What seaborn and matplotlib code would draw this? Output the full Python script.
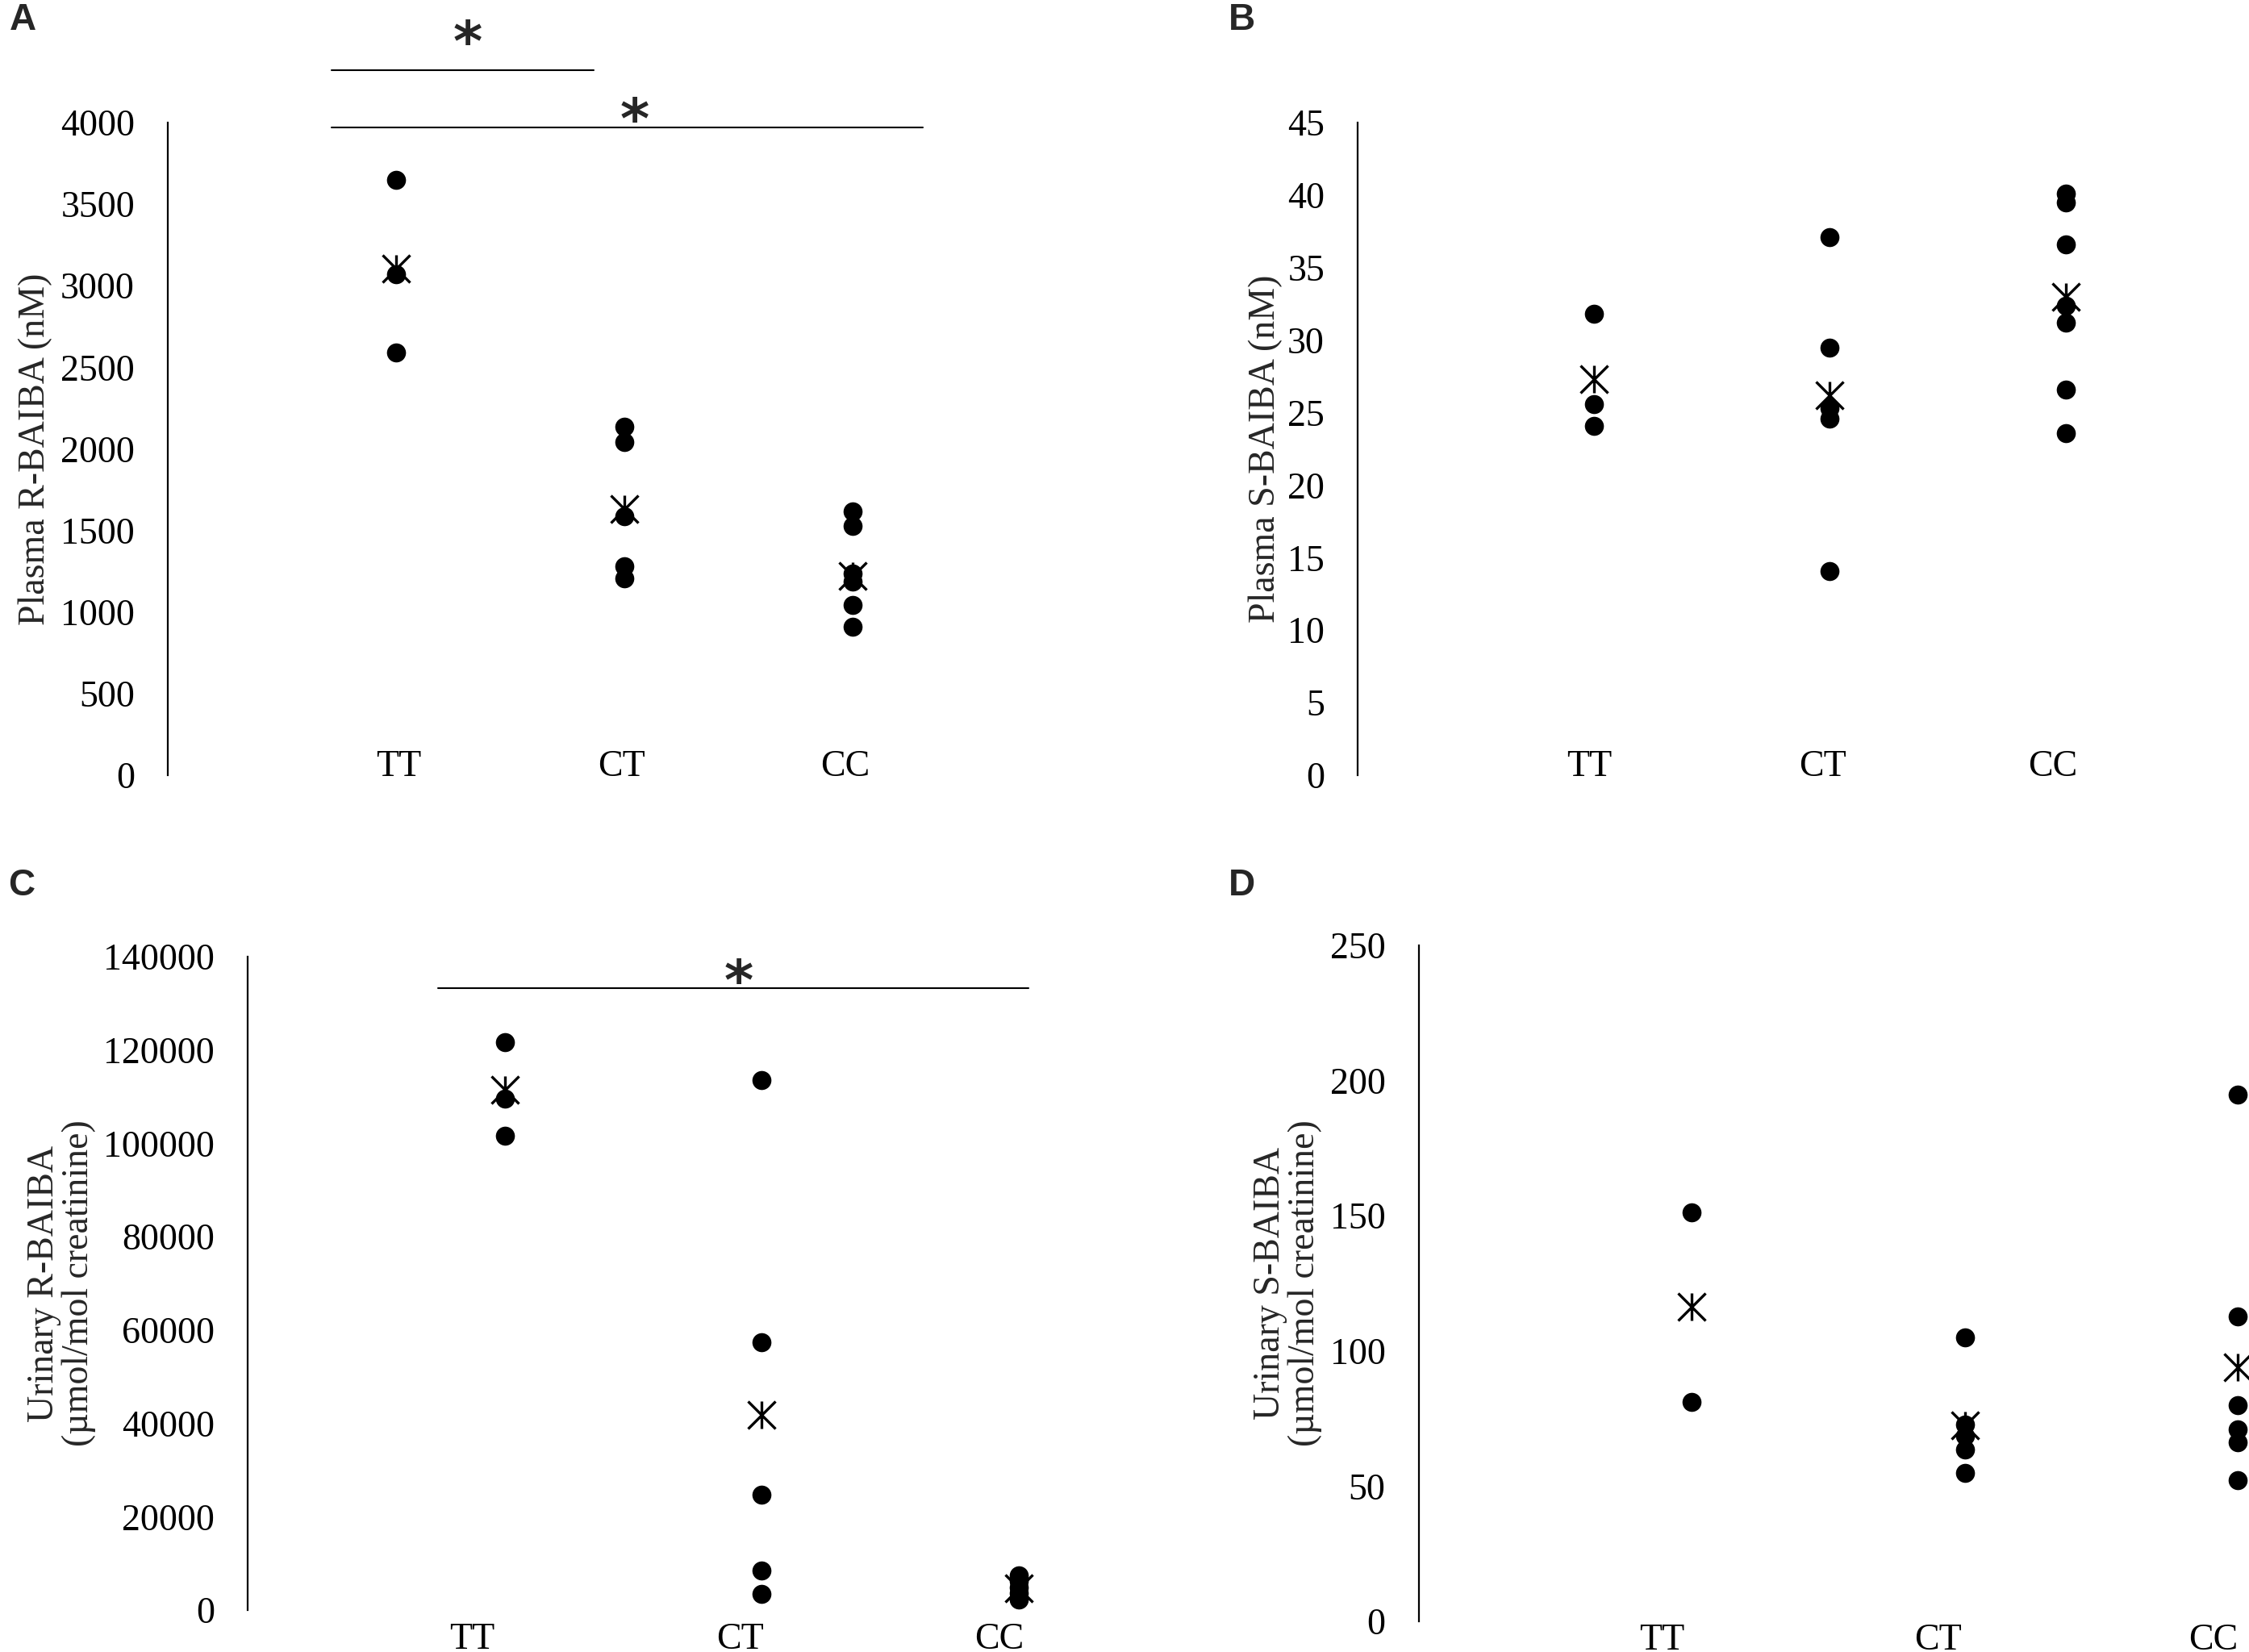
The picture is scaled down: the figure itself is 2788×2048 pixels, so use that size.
import numpy as np
import pandas as pd
import matplotlib.pyplot as plt
import seaborn as sns
from matplotlib.path import Path
from matplotlib.transforms import ScaledTranslation

groups = ['TT', 'CT', 'CC']

# A - plasma R-BAIBA (nM)
plasma_r_tt = [3650, 3070, 2590]
plasma_r_ct = [2135, 2040, 1585, 1280, 1205]
plasma_r_cc = [1615, 1527, 1235, 1187, 1045, 909]
plasma_r_mean = [3104, 1631, 1219]

# B - plasma S-BAIBA (nM)
plasma_s_tt = [31.8, 25.6, 24.1]
plasma_s_ct = [37.1, 29.5, 25.3, 24.6, 14.1]
plasma_s_cc = [40.1, 39.5, 36.6, 32.4, 31.2, 26.6, 23.6]
plasma_s_mean = [27.3, 26.2, 33.0]

# C - urinary R-BAIBA (umol/mol creatinine)
urine_r_tt = [121700, 109500, 101700]
urine_r_ct = [113600, 57300, 24700, 8400, 3400]
urine_r_cc = [7500, 6200, 4800, 3600, 2600, 2300]
urine_r_mean = [111400, 41800, 4600]

# D - urinary S-BAIBA (umol/mol creatinine)
urine_s_tt = [151.1, 81.1]
urine_s_ct = [104.9, 72.9, 68.7, 63.4, 54.8]
urine_s_cc = [194.7, 112.6, 79.8, 71.0, 66.2, 52.1]
urine_s_mean = [116.2, 72.5, 93.9]

W, H = 2788, 2048

sns.set_style('white')
plt.rcParams['font.family'] = ['Liberation Serif', 'DejaVu Serif']

fig = plt.figure(figsize=(W / 100, H / 100), dpi=100)

# star marker as drawn by the spreadsheet: an X with a vertical bar
star = Path([(0, -1), (0, 1), (-1, -1), (1, 1), (-1, 1), (1, -1)],
            [Path.MOVETO, Path.LINETO, Path.MOVETO, Path.LINETO, Path.MOVETO, Path.LINETO])


def panel(rect, vals, means, ymax, step, ylabel, label_x, xpad, xshift):
    # rect in pixels: axis x, top, bottom, spacing per category
    x0, top, bottom, sp = rect
    ax = fig.add_axes([x0 / W, 1 - bottom / H, 4 * sp / W, (bottom - top) / H])
    df = pd.DataFrame({'group': np.repeat(groups, [len(v) for v in vals]),
                       'value': np.concatenate(vals)})
    mf = pd.DataFrame({'group': groups, 'value': means})
    sns.stripplot(data=mf, x='group', y='value', order=groups, jitter=False,
                  marker=star, size=24.5, color='black', edgecolor='black',
                  linewidth=2.4, ax=ax, zorder=2)
    sns.stripplot(data=df, x='group', y='value', order=groups, jitter=False,
                  size=17, color='black', linewidth=0, ax=ax, zorder=3)
    ax.set_xlim(-1, 3)
    ax.set_ylim(0, ymax)
    ax.set_yticks(np.arange(0, ymax + step / 2, step))
    ax.set_xlabel('')
    ax.set_ylabel(ylabel, fontsize=33, linespacing=1.0)
    ax.yaxis.set_label_coords((label_x - x0) / (4 * sp), 0.5)
    for s in ['top', 'right', 'bottom']:
        ax.spines[s].set_visible(False)
    ax.spines['left'].set_linewidth(1.6)
    ax.spines['left'].set_color('black')
    ax.tick_params(axis='y', length=0, pad=29.5, labelsize=33, colors='black')
    ax.tick_params(axis='x', length=0, pad=xpad, labelsize=33, colors='black')
    # category labels sit a little off the point columns in the original
    for lab, dx in zip(ax.get_xticklabels(), xshift):
        lab.set_transform(lab.get_transform() + ScaledTranslation(dx / 100, 0, fig.dpi_scale_trans))
    return ax


ax_a = panel((208, 152, 961, 283), [plasma_r_tt, plasma_r_ct, plasma_r_cc], plasma_r_mean,
             4000, 500, 'Plasma R-BAIBA (nM)', 65, -22.7, [3.5, -3.5, -9])
ax_b = panel((1683, 152, 961, 292.5), [plasma_s_tt, plasma_s_ct, plasma_s_cc], plasma_s_mean,
             45, 5, 'Plasma S-BAIBA (nM)', 1590, -22.7, [-5, -9, -16])
ax_c = panel((307, 1186, 1996, 318.5), [urine_r_tt, urine_r_ct, urine_r_cc], urine_r_mean,
             140000, 20000, 'Urinary R-BAIBA\n(\u00b5mol/mol creatinine)', 119, 11.5, [-40, -26, -24])
ax_d = panel((1758.5, 1171.6, 2010, 338.5), [urine_s_tt, urine_s_ct, urine_s_cc], urine_s_mean,
             250, 50, 'Urinary S-BAIBA\n(\u00b5mol/mol creatinine)', 1639, 1.5, [-37, -33, -30])

# significance bars
def sig(ax, x1, x2, y, xs, ys):
    ax.plot([x1, x2], [y, y], color='black', lw=1.5, clip_on=False)
    ax.text(xs, ys, '*', ha='center', va='baseline', fontsize=50, fontweight='bold',
            family='DejaVu Sans', clip_on=False)

sig(ax_a, -0.283, 0.866, 4321, 0.314, 4380)
sig(ax_a, -0.283, 2.307, 3970, 1.046, 3905)
sig(ax_c, -0.259, 2.039, 133260, 0.912, 130900)

for letter, (px, py) in zip('ABCD', [(28.5, 37), (1539, 37), (27, 1110), (1539, 1110)]):
    fig.text(px / W, 1 - py / H, letter, ha='center', va='baseline', fontsize=33,
             fontweight='bold', family='Liberation Sans')

fig.savefig('out.png', dpi=100)
